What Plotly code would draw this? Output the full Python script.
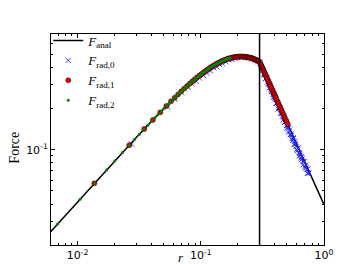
import math
import plotly.graph_objects as go

# ---------------- data ----------------
r_anal = [0.006, 0.008, 0.01, 0.015, 0.02, 0.03, 0.04, 0.05, 0.06, 0.07, 0.08, 0.09, 0.1,
          0.12, 0.14, 0.16, 0.18, 0.2, 0.22, 0.24, 0.26, 0.28, 0.3, 0.32, 0.35, 0.4, 0.45,
          0.5, 0.6, 0.7, 0.8, 0.9, 1.0]
F_anal = [0.02487, 0.03315, 0.04141, 0.06199, 0.08241, 0.1226, 0.1616, 0.1991, 0.2347, 0.2682,
          0.2994, 0.3281, 0.3542, 0.3984, 0.4321, 0.4559, 0.4708, 0.4779, 0.4786, 0.4740,
          0.4654, 0.4538, 0.4400, 0.3867, 0.3233, 0.2475, 0.1956, 0.1584, 0.1100, 0.0808,
          0.0619, 0.0489, 0.0396]

r_rad0 = [0.0275, 0.054, 0.062, 0.070, 0.079, 0.085, 0.092, 0.098, 0.105, 0.112, 0.120, 0.128,
          0.135, 0.143, 0.150, 0.160, 0.170, 0.180, 0.190, 0.200, 0.215, 0.230, 0.245, 0.260,
          0.275, 0.290,
          0.305, 0.312, 0.318, 0.325, 0.331, 0.338, 0.344, 0.351, 0.357, 0.364, 0.370, 0.377,
          0.384, 0.391, 0.398, 0.405, 0.412, 0.420, 0.428, 0.436, 0.444, 0.452, 0.460, 0.469,
          0.478, 0.487, 0.496, 0.505, 0.515, 0.525, 0.535, 0.545, 0.556, 0.567, 0.578, 0.589,
          0.600, 0.612, 0.624, 0.636, 0.648, 0.660, 0.673, 0.686, 0.699, 0.712, 0.726, 0.740,
          0.755,
          0.302, 0.308, 0.315, 0.321, 0.328, 0.334, 0.341, 0.347, 0.354, 0.361, 0.367, 0.374,
          0.381, 0.388, 0.395, 0.402, 0.409, 0.416, 0.424, 0.432, 0.440, 0.448, 0.456, 0.465,
          0.474, 0.483, 0.492, 0.501, 0.510, 0.520, 0.530, 0.540, 0.550, 0.561, 0.572, 0.583,
          0.594, 0.606, 0.618, 0.630, 0.642, 0.654, 0.666, 0.679, 0.692, 0.705, 0.719, 0.733,
          0.747]
F_rad0 = [0.1100, 0.2050, 0.2330, 0.2600, 0.2860, 0.3020, 0.3150, 0.3330, 0.3480, 0.3620,
          0.3760, 0.3950, 0.4020, 0.4180, 0.4250, 0.4380, 0.4520, 0.4560, 0.4660, 0.4700,
          0.4730, 0.4700, 0.4650, 0.4580, 0.4480, 0.4380,
          0.417, 0.391, 0.392, 0.356, 0.354, 0.333, 0.335, 0.302, 0.301, 0.296, 0.275, 0.270,
          0.250, 0.256, 0.2375, 0.234, 0.217, 0.220, 0.203, 0.200, 0.185, 0.192, 0.176, 0.173,
          0.158, 0.162, 0.150, 0.149, 0.134, 0.139, 0.129, 0.127, 0.1166, 0.1207, 0.1102,
          0.1095, 0.1001, 0.1025, 0.0946, 0.0940, 0.0868, 0.0891, 0.0822, 0.0816, 0.0753,
          0.0773, 0.0714, 0.0723, 0.0674,
          0.430, 0.405, 0.379, 0.380, 0.353, 0.330, 0.334, 0.312, 0.313, 0.283, 0.285, 0.266,
          0.267, 0.242, 0.244, 0.243, 0.218, 0.220, 0.198, 0.202, 0.202, 0.1835, 0.1828,
          0.1648, 0.1745, 0.1595, 0.1603, 0.1436, 0.1446, 0.1450, 0.1283, 0.1304, 0.1204,
          0.1220, 0.1089, 0.1153, 0.1055, 0.0981, 0.1027, 0.0898, 0.0913, 0.0843, 0.0857,
          0.0773, 0.0819, 0.0733, 0.0735, 0.0671, 0.0674]

r_rad1 = [0.0137, 0.0263, 0.0348, 0.0409, 0.0470, 0.0526, 0.0574,
          0.0615, 0.0655, 0.0695, 0.0735, 0.0775, 0.0815, 0.0855, 0.0895, 0.0935, 0.0975,
          0.1015, 0.1055, 0.1095, 0.1135, 0.1175, 0.1215, 0.1255, 0.1295, 0.1335, 0.1375,
          0.1415, 0.1455, 0.1495, 0.1535, 0.1575, 0.1615, 0.1655, 0.1695, 0.1735, 0.1775,
          0.1815, 0.1855, 0.1895, 0.1935, 0.1975, 0.2015, 0.2055, 0.2095, 0.2135, 0.2175,
          0.2215, 0.2255, 0.2295, 0.2335, 0.2375, 0.2415, 0.2455, 0.2495, 0.2535, 0.2575,
          0.2615, 0.2655, 0.2695, 0.2735, 0.2775, 0.2815, 0.2855, 0.2895, 0.2935, 0.2975,
          0.303, 0.307, 0.311, 0.315, 0.319, 0.323, 0.327, 0.331, 0.335, 0.340, 0.345, 0.350,
          0.355, 0.360, 0.365, 0.370, 0.376, 0.382, 0.388, 0.394, 0.400, 0.407, 0.414, 0.421,
          0.428, 0.436, 0.444, 0.452, 0.460, 0.469, 0.478, 0.487, 0.497, 0.507]
F_rad1 = [0.0567, 0.1079, 0.1415, 0.1650, 0.1875, 0.2085, 0.2256,
          0.2398, 0.2534, 0.2666, 0.2793, 0.2918, 0.3038, 0.3155, 0.3267, 0.3375, 0.3479,
          0.3578, 0.3674, 0.3765, 0.3852, 0.3935, 0.4013, 0.4088, 0.4157, 0.4223, 0.4285,
          0.4343, 0.4396, 0.4446, 0.4492, 0.4535, 0.4573, 0.4609, 0.4640, 0.4669, 0.4692,
          0.4715, 0.4732, 0.4748, 0.4761, 0.4772, 0.4781, 0.4785, 0.4788, 0.4789, 0.4788,
          0.4784, 0.4777, 0.4768, 0.4758, 0.4747, 0.4735, 0.4720, 0.4703, 0.4686, 0.4665,
          0.4646, 0.4624, 0.4602, 0.4578, 0.4553, 0.4528, 0.4502, 0.4474, 0.4446, 0.4417,
          0.4313, 0.4202, 0.4094, 0.3991, 0.3891, 0.3796, 0.3703, 0.3614, 0.3529, 0.3426,
          0.3327, 0.3233, 0.3142, 0.3056, 0.2972, 0.2893, 0.2801, 0.2714, 0.2630, 0.2551,
          0.2475, 0.2391, 0.2310, 0.2234, 0.2162, 0.2083, 0.2009, 0.1938, 0.1871, 0.1800,
          0.1733, 0.1670, 0.1603, 0.1541]

r_rad2 = [0.0069, 0.0105, 0.0138, 0.0173, 0.0201, 0.0232, 0.0262, 0.0290, 0.0318, 0.0345,
          0.0372, 0.0398, 0.0424, 0.0450, 0.0476, 0.0502, 0.0527, 0.0552, 0.0577, 0.0602,
          0.0627, 0.0652, 0.0677, 0.0702, 0.0727, 0.0752, 0.0777, 0.0802, 0.0827, 0.0852,
          0.0877, 0.0902, 0.0927, 0.0952, 0.0977, 0.1002, 0.1030, 0.1060, 0.1090, 0.1120,
          0.1150, 0.1180, 0.1210, 0.1240, 0.1270, 0.1300, 0.1330, 0.1360, 0.1390, 0.1420,
          0.1450, 0.1480, 0.1510, 0.1540, 0.1570, 0.1600, 0.1630, 0.1660, 0.1690, 0.1720]
F_rad2 = [0.02860, 0.04348, 0.05706, 0.07141, 0.08282, 0.09538, 0.10745, 0.11863, 0.12972,
          0.14032, 0.15083, 0.16084, 0.17077, 0.18053, 0.19022, 0.19978, 0.20887, 0.21782,
          0.22666, 0.23536, 0.24393, 0.25237, 0.26067, 0.26882, 0.27683, 0.28469, 0.29240,
          0.29995, 0.30735, 0.31459, 0.32168, 0.32861, 0.33538, 0.34197, 0.34840, 0.35467,
          0.36149, 0.36857, 0.37541, 0.38200, 0.38835, 0.39448, 0.40036, 0.40600, 0.41141,
          0.41657, 0.42151, 0.42622, 0.43070, 0.43495, 0.43898, 0.44280, 0.44640, 0.44979,
          0.45296, 0.45593, 0.45870, 0.46127, 0.46366, 0.46585]

r_trunc = 0.3

x_tickvals = [0.01, 0.1, 1]
x_ticktext = ["10<sup>-2</sup>", "10<sup>-1</sup>", "10<sup>0</sup>"]
x_minor = [0.006, 0.007, 0.008, 0.009, 0.02, 0.03, 0.04, 0.05, 0.06, 0.07, 0.08, 0.09,
           0.2, 0.3, 0.4, 0.5, 0.6, 0.7, 0.8, 0.9]
y_tickvals = [0.1]
y_ticktext = ["10<sup>-1</sup>"]
y_minor = [0.03, 0.04, 0.05, 0.06, 0.07, 0.08, 0.09, 0.2, 0.3, 0.4, 0.5, 0.6]

x_range = [0.0061, 1.0]
y_range = [0.0201, 0.70]

# ---------------- figure ----------------
fig = go.Figure()
fig.add_trace(go.Scatter(x=r_anal, y=F_anal, mode="lines",
                         line=dict(color="black", width=1.5),
                         name="<i>F</i><sub>anal</sub>"))
fig.add_trace(go.Scatter(x=r_rad0, y=F_rad0, mode="markers",
                         marker=dict(symbol="x-thin", size=5,
                                     line=dict(width=1, color="rgba(30,30,255,0.85)")),
                         name="<i>F</i><sub>rad,0</sub>"))
fig.add_trace(go.Scatter(x=r_rad1, y=F_rad1, mode="markers",
                         marker=dict(symbol="circle", size=5, color="#e80000",
                                     line=dict(width=0.5, color="black")),
                         name="<i>F</i><sub>rad,1</sub>"))
fig.add_trace(go.Scatter(x=r_rad2, y=F_rad2, mode="markers",
                         marker=dict(symbol="circle", size=3, color="#008000",
                                     line=dict(width=0)),
                         name="<i>F</i><sub>rad,2</sub>"))

fig.add_shape(type="line", xref="x", yref="paper", x0=r_trunc, x1=r_trunc, y0=0, y1=1,
              line=dict(color="black", width=1.5))

axis_common = dict(type="log", ticks="inside", ticklen=4, tickcolor="black",
                   mirror="allticks", showline=True, linecolor="black", linewidth=1,
                   showgrid=False, zeroline=False,
                   tickfont=dict(family="DejaVu Sans", size=11, color="black"))

fig.update_xaxes(**axis_common, range=[math.log10(x_range[0]), math.log10(x_range[1])],
                 tickmode="array", tickvals=x_tickvals, ticktext=x_ticktext,
                 minor=dict(tickmode="array", tickvals=x_minor, ticks="inside", ticklen=2,
                            tickcolor="black", showgrid=False),
                 automargin=False)
fig.update_yaxes(**axis_common, range=[math.log10(y_range[0]), math.log10(y_range[1])],
                 tickmode="array", tickvals=y_tickvals, ticktext=y_ticktext,
                 minor=dict(tickmode="array", tickvals=y_minor, ticks="inside", ticklen=2,
                            tickcolor="black", showgrid=False),
                 automargin=False)

fig.add_annotation(text="<i>r</i>", xref="paper", yref="paper", x=0.475, y=-0.058,
                   xanchor="center", yanchor="middle", showarrow=False,
                   font=dict(family="Liberation Serif", size=13, color="black"))
fig.add_annotation(text="Force", xref="paper", yref="paper", x=-0.133, y=0.46,
                   xanchor="center", yanchor="middle", showarrow=False, textangle=-90,
                   font=dict(family="Liberation Serif", size=14, color="black"))

fig.update_layout(
    width=352, height=264,
    margin=dict(l=43, r=36, t=26, b=27),
    paper_bgcolor="white", plot_bgcolor="white",
    showlegend=True,
    legend=dict(x=-0.01, y=1.04, xanchor="left", yanchor="top",
                bgcolor="rgba(0,0,0,0)", borderwidth=0,
                font=dict(family="Liberation Serif", size=13, color="black"),
                itemwidth=30),
)

fig.write_html("out.html")
